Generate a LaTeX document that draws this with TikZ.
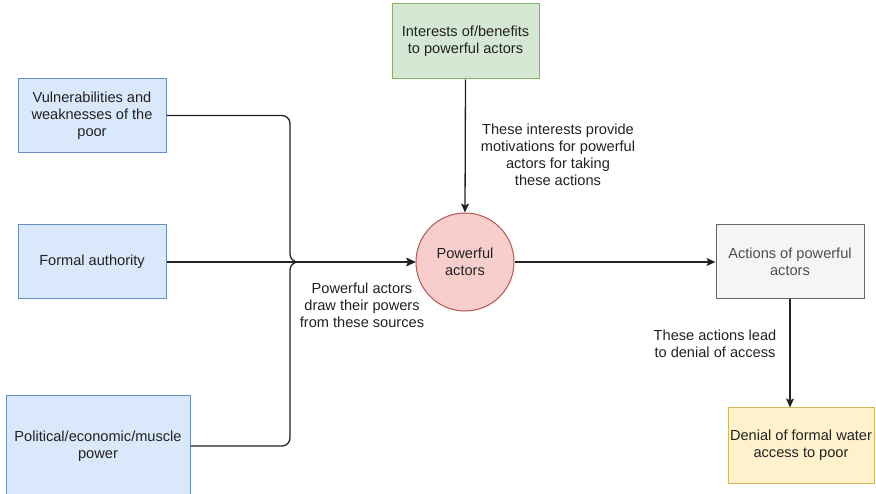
\documentclass[tikz,border=0pt]{standalone}
\usepackage{fontspec}
\setmainfont{Liberation Sans}
\usetikzlibrary{arrows.meta}
\definecolor{bluefill}{HTML}{DAE8FC}\definecolor{bluedraw}{HTML}{6C8EBF}
\definecolor{greenfill}{HTML}{D5E8D4}\definecolor{greendraw}{HTML}{82B366}
\definecolor{redfill}{HTML}{F8CECC}\definecolor{reddraw}{HTML}{B85450}
\definecolor{grayfill}{HTML}{F5F5F5}\definecolor{graydraw}{HTML}{666666}
\definecolor{yellowfill}{HTML}{FFF2CC}\definecolor{yellowdraw}{HTML}{D6B656}
\definecolor{ink}{HTML}{222222}
\begin{document}
\begin{tikzpicture}[x=1pt,y=-1pt,
  txt/.style={font=\fontsize{14.6}{17}\selectfont, text=ink, align=center},
  box/.style={txt, draw, line width=1pt, inner sep=2pt},
  bluebox/.style={box, fill=bluefill, draw=bluedraw, minimum width=148pt, minimum height=74pt},
  conn/.style={draw=ink, line width=1.3pt, -{Stealth[length=9pt,width=8pt,inset=2pt]}},
  brace/.style={conn, rounded corners=8pt}]
\useasboundingbox (0,0) rectangle (876,494);
\clip (0,0) rectangle (876,494);
\fill[white] (0,0) rectangle (876,494);

% sources of power
\node[bluebox] (vuln) at (92,115.5) {Vulnerabilities and\\weaknesses of the\\poor};
\node[bluebox] (auth) at (92,262) {Formal authority};
\node[bluebox, minimum width=184pt, minimum height=100pt] (pol) at (98,446)
  {Political/economic/muscle\\power};

% central actor and its motivation
\node[box, fill=greenfill, draw=greendraw, minimum width=147pt, minimum height=75pt] (int) at (465.5,41.5)
  {Interests of/benefits\\to powerful actors};
\node[txt, circle, draw=reddraw, fill=redfill, line width=1pt, minimum size=98pt, inner sep=0pt] (pa) at (465,262)
  {Powerful\\actors};

% consequences
\node[box, fill=grayfill, draw=graydraw, text=ink!80!white, minimum width=148pt, minimum height=74pt] (act) at (790,262)
  {Actions of powerful\\actors};
\node[box, fill=yellowfill, draw=yellowdraw, minimum width=146pt, minimum height=75pt] (den) at (801,445.5)
  {Denial of formal water\\access to poor};

% junction where the three sources meet
\coordinate (j) at (290,262);

\draw[brace] (vuln.east) -| (j) -- (pa.west);
\draw[brace] (pol.east) -| (j) -- (pa.west);
\draw[conn] (auth.east) -- (pa.west);
\draw[conn] (int.south) -- (pa.north);
\draw[conn] (pa.east) -- (act.west);
\draw[conn] (act.south) -- (act.south |- den.north);

% edge labels
\node[txt] (lsrc) at (362,305) {Powerful actors\\draw their powers\\from these sources};
\node[txt] (lint) at (558,154.5) {These interests provide\\motivations for powerful\\actors for taking\\these actions};
\node[txt] (lact) at (715,343.5) {These actions lead\\to denial of access};
\end{tikzpicture}
\end{document}
